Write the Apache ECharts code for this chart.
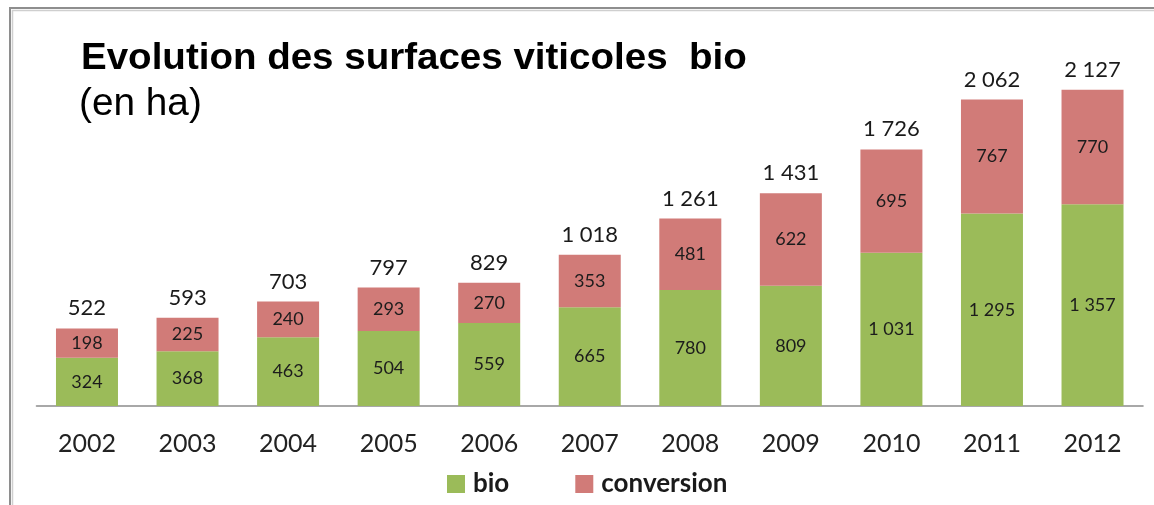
<!DOCTYPE html>
<html>
<head>
<meta charset="utf-8">
<script src="https://cdn.jsdelivr.net/npm/echarts@6/dist/echarts.min.js"></script>
<style>
  html, body { margin: 0; padding: 0; background: #fff; }
  #chart { width: 1154px; height: 505px; }
</style>
</head>
<body>
<div id="chart"></div>
<script>
// données (en ha)
const years = ['2002', '2003', '2004', '2005', '2006', '2007', '2008', '2009', '2010', '2011', '2012']
const bio = [324, 368, 463, 504, 559, 665, 780, 809, 1031, 1295, 1357]
const conversion = [198, 225, 240, 293, 270, 353, 481, 622, 695, 767, 770]
const totals = [522, 593, 703, 797, 829, 1018, 1261, 1431, 1726, 2062, 2127]

// 1031 -> "1 031"
function fmt (v) {
  if (v < 1000) return String(v)
  return Math.floor(v / 1000) + ' ' + String(v % 1000).padStart(3, '0')
}

const GREEN = '#9BBB59'
const RED = '#D17B78'
const DIGITS = 'Lato'

let dom = echarts.init(document.getElementById('chart'))

let option = {
  animation: false,
  backgroundColor: '#fff',
  graphic: [
    // cadre gris (haut + gauche)
    { type: 'rect', shape: { x: 10, y: 8, width: 1300, height: 700 },
      style: { fill: 'none', stroke: '#8e8e8e', lineWidth: 2 }, silent: true },
    { type: 'rect', shape: { x: 12.5, y: 10.5, width: 1300, height: 700 },
      style: { fill: 'none', stroke: '#cfcfcf', lineWidth: 1.5 }, silent: true },
    { type: 'text', x: 81, y: 41, scaleX: 1.07,
      style: { text: 'Evolution des surfaces viticoles  bio', font: 'bold 36px "Liberation Sans"',
        fill: '#000', textVerticalAlign: 'top' } },
    { type: 'text', x: 79, y: 86, scaleX: 1.02,
      style: { text: '(en ha)', font: '38px "Liberation Sans"', fill: '#000', textVerticalAlign: 'top' } }
  ],
  legend: {
    data: ['bio', 'conversion'],
    left: 442,
    top: 466,
    itemWidth: 18,
    itemHeight: 18,
    itemGap: 66,
    icon: 'rect',
    textStyle: { fontFamily: DIGITS, fontWeight: 'bold', fontSize: 26, color: '#1a1a1a', padding: [0, 0, 0, 3] }
  },
  grid: { left: 36.7, right: 11.2, top: 34.3, bottom: 99, containLabel: false },
  xAxis: {
    type: 'category',
    data: years,
    axisTick: { show: false },
    axisLine: { lineStyle: { color: '#a8a8a8', width: 2 } },
    axisLabel: { fontFamily: DIGITS, fontSize: 25, color: '#222', margin: 25 }
  },
  yAxis: {
    type: 'value',
    min: 0,
    max: 2500,
    show: false,
    splitLine: { show: false }
  },
  series: [
    {
      name: 'bio', type: 'bar', stack: 'tot', barWidth: 62,
      itemStyle: { color: GREEN },
      label: { show: true, position: 'inside', fontFamily: DIGITS, fontSize: 18, color: '#1c1c1c',
        formatter: p => fmt(p.value) },
      data: bio
    },
    {
      name: 'conversion', type: 'bar', stack: 'tot', barWidth: 62,
      itemStyle: { color: RED },
      label: { show: true, position: 'inside', fontFamily: DIGITS, fontSize: 18, color: '#1c1c1c',
        formatter: p => fmt(p.value) },
      data: conversion
    },
    {
      // étiquette du total au-dessus de chaque barre
      name: 'total', type: 'bar', stack: 'tot', barWidth: 62,
      itemStyle: { color: 'transparent' },
      label: { show: true, position: 'top', distance: 9, fontFamily: DIGITS, fontSize: 22, color: '#1a1a1a',
        formatter: p => fmt(totals[p.dataIndex]) },
      data: totals.map(() => 0)
    }
  ]
}

dom.setOption(option)
</script>
</body>
</html>
